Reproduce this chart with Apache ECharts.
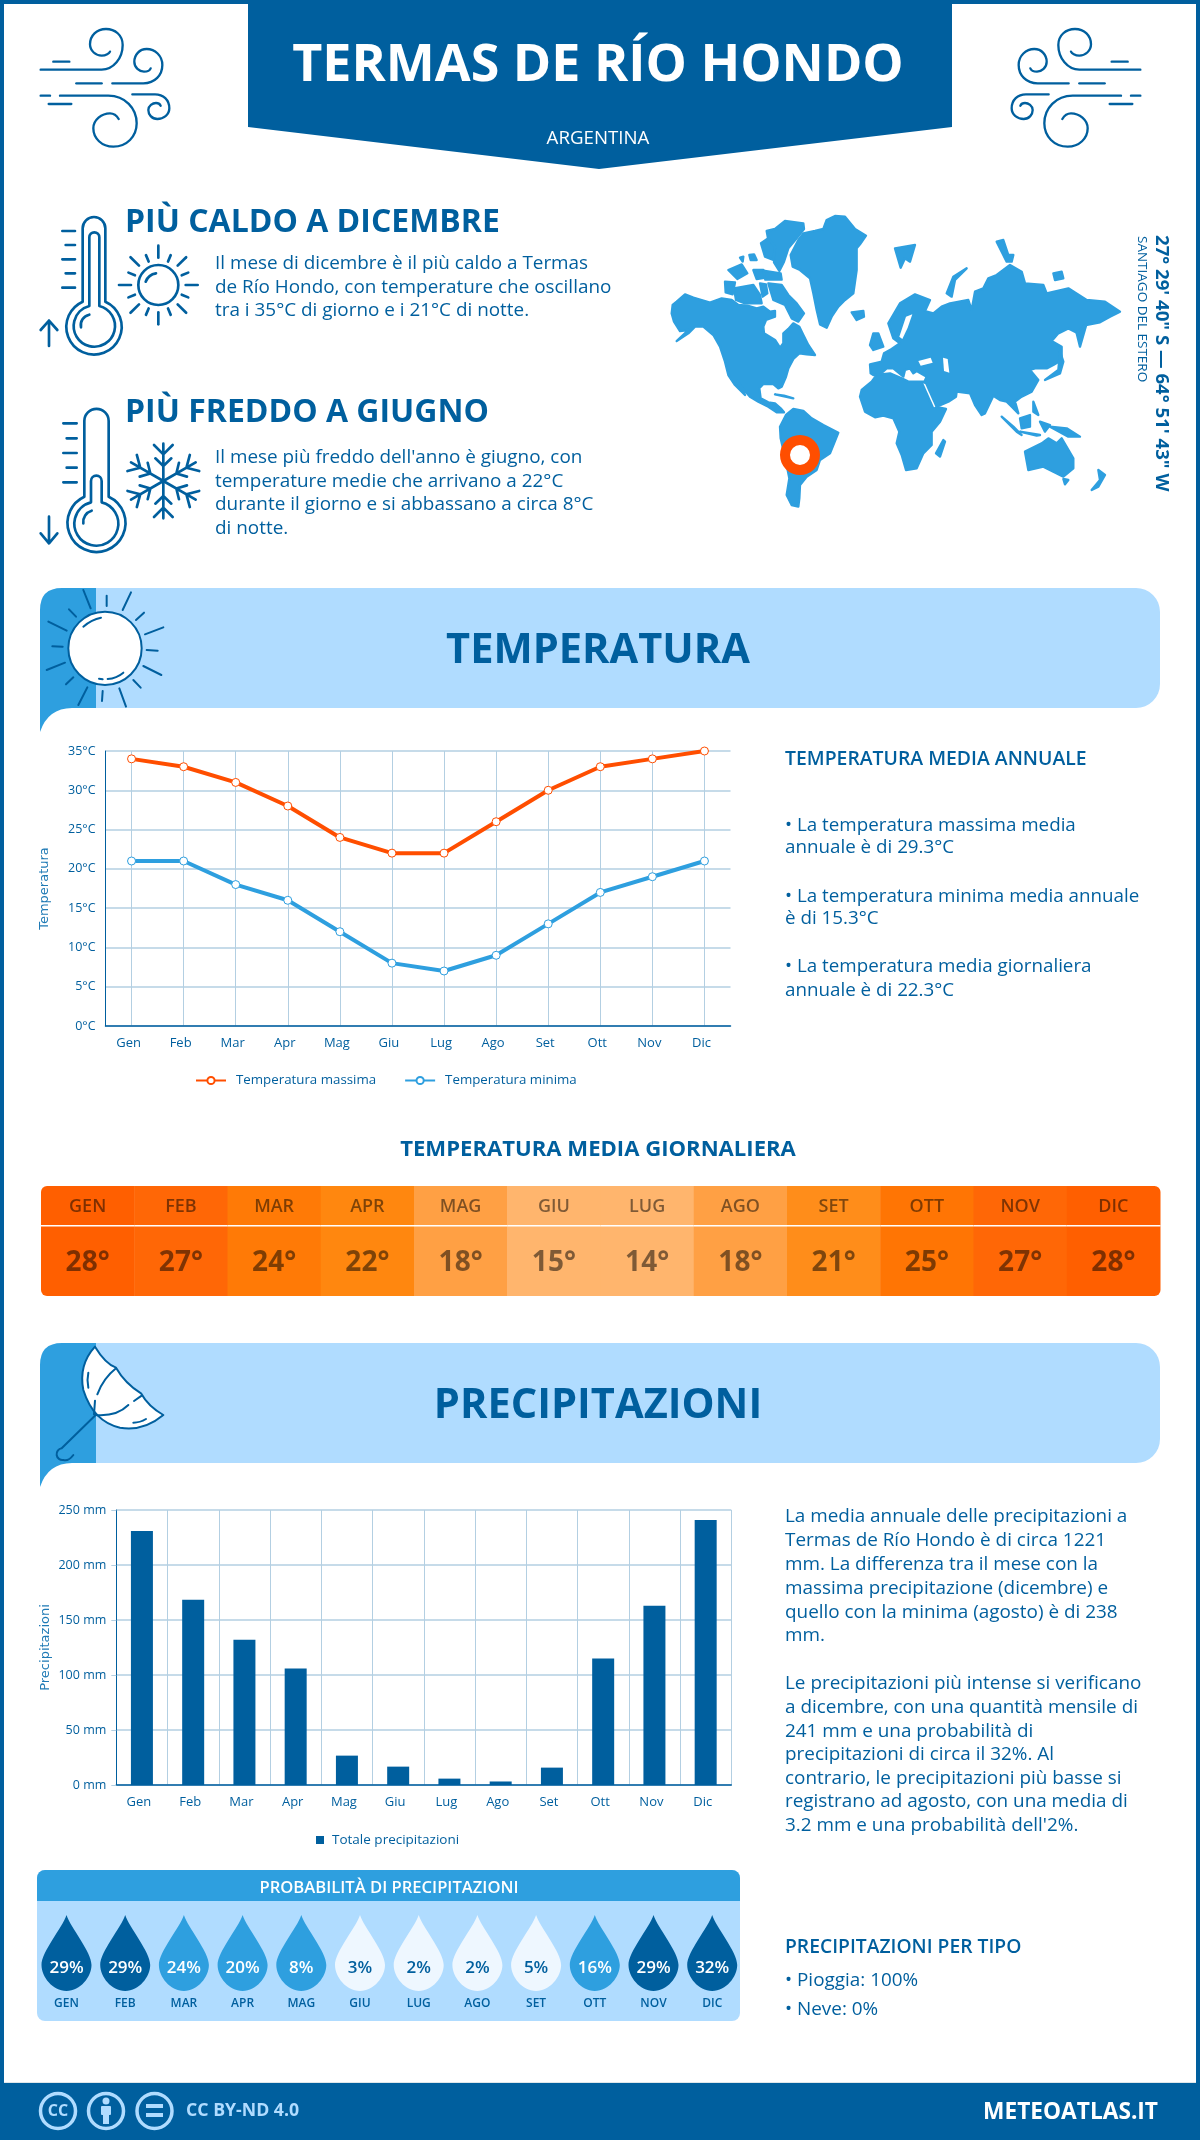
<!DOCTYPE html>
<html><head><meta charset="utf-8">
<style>html,body{margin:0;padding:0;background:#fff}#c{width:1200px;height:2140px}</style>
<script src="https://cdn.jsdelivr.net/npm/echarts@6/dist/echarts.min.js"></script>
</head><body><div id="c"></div>
<script>
const months=['Gen','Feb','Mar','Apr','Mag','Giu','Lug','Ago','Set','Ott','Nov','Dic'];
const monthsUpper=['GEN','FEB','MAR','APR','MAG','GIU','LUG','AGO','SET','OTT','NOV','DIC'];
const tempMax=[34,33,31,28,24,22,22,26,30,33,34,35];
const tempMin=[21,21,18,16,12,8,7,9,13,17,19,21];
const tempMean=[28,27,24,22,18,15,14,18,21,25,27,28];
const precip=[231,168.5,132,105.8,26.7,16.7,5.8,3.2,15.8,115,163,241];
const precipProb=[29,29,24,20,8,3,2,2,5,16,29,32];

const DARK='#005f9e',MID='#2e9fdf',LIGHT='#b0dcff',PALE='#eef7ff',HOT='#ff4e00',GRID='#b3cfe2';
const FONT='"Open Sans"';
const meanColor={28:'#ff5f00',27:'#ff6706',25:'#ff7504',24:'#ff7a06',22:'#ff870f',21:'#ff8d1a',18:'#ffa044',15:'#ffb56d',14:'#ffb56d'};

const gfx=[];
function T(text,x,y,size,weight,o){o=o||{};
  gfx.push({type:'text',x,y,rotation:o.rot||0,silent:true,style:{text,x:0,y:0,fill:o.fill||DARK,
    font:`${weight} ${size}px ${o.family||FONT}`,align:o.align||'left',verticalAlign:'middle'}});}
function R(x,y,w,h,fill,r){gfx.push({type:'rect',silent:true,shape:{x,y,width:w,height:h,r:r||0},style:{fill}});}
function P(d,fill,stroke,lw){return {type:'path',silent:true,shape:{pathData:d},
  style:{fill:fill||'none',stroke:stroke||null,lineWidth:lw||0,lineCap:'round',lineJoin:'round'}};}
function G(x,y,sx,sy,children){gfx.push({type:'group',x,y,scaleX:sx,scaleY:sy,silent:true,children});}
function L(x1,y1,x2,y2,lw,c){return {type:'line',silent:true,shape:{x1,y1,x2,y2},style:{stroke:c||DARK,lineWidth:lw,lineCap:'round'}};}
function poly(pts,fill){return {type:'polygon',silent:true,shape:{points:pts},
  style:fill?{fill}:{fill:MID,stroke:MID,lineWidth:7,lineJoin:'round'}};}

// page frame
R(0,0,1200,4,DARK);R(0,0,4,2140,DARK);R(1196,0,4,2140,DARK);
// header
gfx.push({type:'polygon',silent:true,shape:{points:[[248,0],[952,0],[952,127],[599,169],[248,127]]},style:{fill:DARK}});
T('TERMAS DE RÍO HONDO',598,66,52,700,{fill:'#fff',align:'center'});
T('ARGENTINA',598,139,18.7,400,{fill:'#fff',align:'center'});
// wind icons
const windPaths=[
'M32 164 H215 C250 164 278 130 278 90 C278 60 255 42 228 42 C200 42 180 62 180 88 C180 108 198 122 215 122 C228 122 238 115 240 110',
'M70 140 H118','M139 205 H215',
'M247 205 H340 C375 205 397 180 397 150 C397 122 375 102 350 102 C328 102 313 120 313 140 C313 158 328 170 342 170 C352 170 360 165 362 160',
'M32 242 H60',
'M90 242 H235 C285 242 320 280 320 325 C320 365 290 395 250 395 C215 395 190 370 190 340 C190 315 215 295 240 295 C252 295 262 305 266 312',
'M56 267 H124',
'M307 238 H375 C400 238 418 255 418 280 C418 300 400 312 382 312 C365 312 355 298 355 285 C355 272 368 264 378 264 C385 264 390 268 392 272'];
G(30,15,1/3,1/3,windPaths.map(d=>P(d,null,DARK,7)));
G(1151,15,-1/3,1/3,windPaths.map(d=>P(d,null,DARK,7)));

// hot block
T('PIÙ CALDO A DICEMBRE',125,222.5,32,700);
['Il mese di dicembre è il più caldo a Termas','de Río Hondo, con temperature che oscillano','tra i 35°C di giorno e i 21°C di notte.']
 .forEach((s,i)=>T(s,215,264+i*23.3,18.9,400));
const hot=[P('M158 305 L158 85 A34 34 0 0 1 226 85 L226 305 A83 83 0 1 1 158 305 Z',null,DARK,8),
 P('M178 318 L178 112 A15 15 0 0 1 208 112 L208 318 A62 62 0 1 1 178 318 Z',null,DARK,8),
 P('M153 382 A32 32 0 0 1 178 344',null,DARK,8),P('M57 438 V362 M32 390 L57 362 L82 390',null,DARK,8),
 P('M97 93 H135 M107 135 H135 M97 178 H135 M107 220 H135 M97 263 H135',null,DARK,8),
 {type:'circle',silent:true,shape:{cx:385,cy:255,r:60},style:{fill:'none',stroke:DARK,lineWidth:8}},
 P('M347 245 A40 40 0 0 1 378 220',null,DARK,8)];
for(let k=0;k<16;k++){const a=k*Math.PI/8,lng=k%2==0,r1=lng?82:76,r2=lng?118:97;
 hot.push(L(385+r1*Math.cos(a),255+r1*Math.sin(a),385+r2*Math.cos(a),255+r2*Math.sin(a),8));}
G(30,200,1/3,1/3,hot);

// cold block
T('PIÙ FREDDO A GIUGNO',125,412.5,32,700);
["Il mese più freddo dell'anno è giugno, con",'temperature medie che arrivano a 22°C','durante il giorno e si abbassano a circa 8°C','di notte.']
 .forEach((s,i)=>T(s,215,458+i*23.4,18.9,400));
const cold=[P('M163 305 L163 78 A36 36 0 0 1 236 78 L236 305 A87 87 0 1 1 163 305 Z',null,DARK,8),
 P('M183 322 L183 258 A16 16 0 0 1 215 258 L215 322 A66 66 0 1 1 183 322 Z',null,DARK,8),
 P('M160 385 A35 35 0 0 1 185 347',null,DARK,8),P('M57 365 V445 M32 415 L57 445 L82 415',null,DARK,8),
 P('M100 85 H140 M110 130 H140 M100 174 H140 M110 218 H140 M100 262 H140',null,DARK,8)];
for(let k=0;k<6;k++){const a=-Math.PI/2+k*Math.PI/3,c=Math.cos(a),s=Math.sin(a),
 pt=(f,l)=>[400+f*c-l*s,258+f*s+l*c];
 const A=(f,l)=>pt(f,l).join(' ');
 cold.push(P(`M400 258 L${A(112,0)} M${A(108,-28)} L${A(80,0)} L${A(108,28)} M${A(68,-24)} L${A(45,0)} L${A(68,24)}`,null,DARK,8));}
G(30,395,1/3,1/3,cold);

// world map (decorative outlines)
const land=[
[[38,300],[50,290],[75,268],[100,278],[125,285],[150,293],[185,280],[215,285],[235,300],[262,302],[290,310],[310,305],[330,320],[345,318],[345,335],[318,345],[310,365],[312,385],[345,405],[360,428],[370,415],[370,385],[385,372],[400,355],[418,365],[430,390],[445,420],[465,450],[440,448],[418,445],[400,462],[385,490],[378,515],[365,545],[355,550],[340,537],[310,537],[298,550],[302,580],[325,592],[345,595],[362,610],[372,622],[350,622],[325,605],[295,590],[270,575],[248,550],[232,528],[255,570],[225,540],[205,510],[195,470],[180,425],[160,390],[130,365],[105,365],[85,385],[50,408],[85,375],[60,378],[42,350],[35,325]],
[[325,235],[365,240],[385,270],[410,295],[432,325],[415,350],[395,340],[375,300],[340,285]],
[[222,250],[280,240],[300,270],[305,295],[255,295],[228,285]],
[[195,230],[225,232],[218,268],[197,262]],[[205,195],[245,178],[262,205],[232,222]],[[280,195],[310,195],[318,218],[290,222]],
[[300,235],[318,238],[322,265],[308,275]],[[310,197],[362,205],[365,224],[316,224]],
[[320,78],[345,72],[375,48],[430,55],[432,72],[410,100],[385,130],[372,170],[358,198],[342,172],[345,130],[325,105]],
[[303,115],[325,100],[345,125],[340,165],[315,155]],[[240,158],[250,155],[248,170]],[[268,150],[282,148],[290,165],[272,165]],
[[392,150],[415,105],[430,85],[465,78],[490,72],[500,45],[525,33],[555,35],[585,72],[618,92],[600,118],[590,130],[590,195],[580,265],[555,285],[535,305],[515,335],[500,368],[480,358],[470,315],[460,265],[450,220],[420,195],[398,185]],
[[575,322],[610,318],[612,335],[590,345]],
[[360,665],[378,630],[400,612],[430,618],[455,640],[490,660],[535,683],[520,720],[510,745],[480,765],[470,795],[440,815],[420,840],[418,880],[415,905],[395,900],[380,870],[388,820],[378,770],[362,700]],
[[600,575],[605,555],[635,530],[650,510],[690,505],[725,520],[745,530],[790,530],[805,570],[825,605],[858,612],[840,650],[815,680],[815,720],[790,745],[770,790],[738,795],[725,750],[710,715],[718,680],[700,640],[670,632],[645,637],[615,620]],
[[850,705],[855,710],[840,755],[828,745]],
[[632,505],[630,478],[665,470],[672,445],[695,432],[720,415],[700,400],[685,355],[720,295],[765,268],[810,285],[795,318],[820,325],[845,305],[870,295],[925,285],[935,315],[945,260],[970,250],[985,220],[1010,210],[1050,180],[1085,200],[1095,235],[1150,240],[1160,265],[1225,250],[1280,285],[1335,290],[1380,320],[1350,335],[1320,352],[1270,362],[1255,385],[1225,370],[1195,385],[1175,408],[1205,425],[1205,465],[1180,480],[1160,490],[1125,490],[1110,495],[1135,525],[1115,560],[1085,575],[1065,590],[1075,625],[1050,600],[1040,590],[1020,585],[1000,572],[975,625],[965,630],[945,600],[930,565],[890,560],[888,575],[865,590],[830,605],[815,600],[790,538],[800,515],[770,498],[760,505],[750,490],[735,495],[730,515],[700,490],[680,490],[660,508],[640,510]],
[[640,385],[655,385],[670,425],[640,435],[630,420]],[[705,130],[765,120],[750,170],[735,160],[722,188]],
[[860,265],[880,215],[920,190],[885,225],[875,275]],[[1155,525],[1195,495],[1200,440],[1210,470],[1200,505]],
[[1250,385],[1280,355],[1260,425]],[[1180,205],[1205,200],[1210,220],[1185,225]],
[[1010,110],[1030,105],[1045,150],[1060,150],[1055,170],[1040,170]],
[[1025,635],[1060,665],[1085,690],[1070,680]],[[1080,680],[1140,690],[1130,692]],[[1080,640],[1110,630],[1110,665],[1085,670]],
[[1120,590],[1135,630],[1120,620]],[[1140,650],[1170,660],[1155,680]],[[1170,665],[1220,670],[1260,695],[1225,695]],
[[1095,740],[1145,715],[1165,700],[1190,715],[1205,700],[1240,760],[1240,790],[1210,815],[1180,800],[1150,785],[1105,795]],
[[1210,822],[1225,825],[1215,838]],[[1315,795],[1335,810],[1315,845],[1295,855],[1320,825]],
[[345,568],[400,580],[372,572]]];
const waters=[[[775,468],[812,458],[818,473],[782,482]],[[849,458],[863,462],[868,503],[852,498]],[[738,335],[757,328],[743,368],[727,402],[718,395]],[[790,535],[796,538],[826,605],[822,607]]];
const mapEls=land.map(p=>poly(p)).concat(waters.map(p=>poly(p,'#fff')));
mapEls.push({type:'circle',silent:true,shape:{cx:420,cy:750,r:32},style:{fill:'#fff'}});
mapEls.push({type:'ring',silent:true,shape:{cx:420,cy:750,r:60,r0:30},style:{fill:HOT}});
G(660,205,1/3,1/3,mapEls);
T('27° 29\' 40" S — 64° 51\' 43" W',1161,235,18.6,700,{rot:-Math.PI/2});
T('SANTIAGO DEL ESTERO',1142,236,13.5,400,{rot:-Math.PI/2});

// banners
function banner(y0,title){
  gfx.push({type:'rect',silent:true,shape:{x:90,y:y0,width:1070,height:120,r:[0,24,24,0]},style:{fill:LIGHT}});
  gfx.push(P(`M96 ${y0} H62 Q40 ${y0} 40 ${y0+22} V${y0+144} Q48 ${y0+120} 72 ${y0+120} H96 Z`,MID));
  T(title,598,y0+63,41.6,700,{align:'center'});
}
banner(588,'TEMPERATURA');
banner(1343,'PRECIPITAZIONI');
const rays=[[160,30,182,85],[230,47,230,78],[303,37,278,90],[342,98,318,120],[400,142,345,163],[350,210,383,212],[340,258,394,285],[310,300,332,323],[268,325,288,380],[218,333,216,363],[172,322,145,375],[130,292,108,313],[105,248,50,270],[98,200,67,199],[110,152,55,125],[138,110,117,88]];
G(30,580,1/3,1/3,[{type:'circle',silent:true,shape:{cx:225,cy:205,r:110},style:{fill:'#fff',stroke:DARK,lineWidth:6}}]
 .concat(rays.map(r=>L(r[0],r[1],r[2],r[3],6)))
 .concat([P('M160 140 Q185 118 213 113',null,DARK,6),P('M233 297 Q260 295 280 278',null,DARK,6),P('M207 296 L218 298',null,DARK,6)]));
G(30,1335,1/3,1/3,[
 P('M195 35 Q225 85 258 98 Q285 145 333 175 Q355 215 400 240 Q340 290 270 278 Q190 260 160 165 Q145 90 195 35 Z','#fff',DARK,6),
 P('M197 240 Q260 245 295 210 M312 198 L335 182 M258 100 Q220 130 202 178 M195 197 L192 238 M175 113 Q170 135 175 158 M310 263 Q330 263 348 252',null,DARK,6),
 P('M197 240 L95 340 A15 15 0 0 0 100 375 Q115 380 130 360',null,DARK,6)]);

// temperature notes
T('TEMPERATURA MEDIA ANNUALE',785,759,19.4,600);
[['• La temperatura massima media',826],['annuale è di 29.3°C',848],['• La temperatura minima media annuale',897],['è di 15.3°C',919],['• La temperatura media giornaliera',967],['annuale è di 22.3°C',991]]
 .forEach(a=>T(a[0],785,a[1],18.8,400));
T('TEMPERATURA MEDIA GIORNALIERA',598,1149.5,22.1,700,{align:'center'});

// precipitation notes
['La media annuale delle precipitazioni a','Termas de Río Hondo è di circa 1221','mm. La differenza tra il mese con la','massima precipitazione (dicembre) e','quello con la minima (agosto) è di 238','mm.']
 .forEach((s,i)=>T(s,785,1517+i*23.8,18.9,400));
['Le precipitazioni più intense si verificano','a dicembre, con una quantità mensile di','241 mm e una probabilità di','precipitazioni di circa il 32%. Al','contrario, le precipitazioni più basse si','registrano ad agosto, con una media di',"3.2 mm e una probabilità dell'2%."]
 .forEach((s,i)=>T(s,785,1684+i*23.6,18.9,400));

// probability panel
R(37,1870,703,151,LIGHT,8);
gfx.push({type:'rect',silent:true,shape:{x:37,y:1870,width:703,height:31,r:[8,8,0,0]},style:{fill:MID}});
T('PROBABILITÀ DI PRECIPITAZIONI',389,1888,16.6,600,{fill:'#fff',align:'center'});
T('PRECIPITAZIONI PER TIPO',785,1948,19.3,600);
T('• Pioggia: 100%',785,1981,18.9,400);
T('• Neve: 0%',785,2010,18.9,400);

// footer
R(4,2082,1192,1,'#dfe6ea');R(0,2083,1200,57,DARK);
[58,106,154.5].forEach(x=>gfx.push({type:'circle',silent:true,shape:{cx:x,cy:2111,r:17.5},style:{fill:'none',stroke:LIGHT,lineWidth:3.5}}));
T('CC',58,2111,16,700,{fill:LIGHT,align:'center'});
gfx.push({type:'circle',silent:true,shape:{cx:106,cy:2101,r:3.5},style:{fill:LIGHT}});
R(101,2106,10,9,LIGHT,1);R(103,2115,6,9,LIGHT);
R(146,2104,17,4,LIGHT);R(146,2113,17,4,LIGHT);
T('CC BY-ND 4.0',186,2111,17.7,700,{fill:LIGHT});
T('METEOATLAS.IT',1158,2113,22.7,700,{fill:'#fff',align:'right'});

const axisText={color:DARK,fontFamily:FONT,fontSize:12.5};
const DROP='path://M50 0 C58 38 100 110 100 150 C100 185 78 228 50 228 C22 228 0 185 0 150 C0 110 42 38 50 0 Z';

const chart=echarts.init(document.getElementById('c'),null,{renderer:'canvas',width:1200,height:2140});
chart.setOption({
 animation:false,backgroundColor:'#fff',
 textStyle:{fontFamily:FONT},
 grid:[
  {left:105.5,top:751,width:625,height:275},
  {left:116.3,top:1510,width:615,height:275},
  {left:41,top:1186,width:1119,height:110},
  {left:37.15,top:1915,width:704.4,height:76}],
 legend:[
  {data:['Temperatura massima','Temperatura minima'],left:190,top:1069,itemWidth:30,itemHeight:9,itemGap:28,
   textStyle:{color:DARK,fontFamily:FONT,fontSize:13.3,padding:[0,0,0,5]}},
  {data:['Totale precipitazioni'],left:311,top:1828,itemWidth:8,itemHeight:8,icon:'rect',
   textStyle:{color:DARK,fontFamily:FONT,fontSize:13.5,padding:[0,0,0,3]}}],
 xAxis:[
  {gridIndex:0,type:'category',data:months,axisLine:{lineStyle:{color:DARK,width:1.5}},axisTick:{show:false},
   axisLabel:{...axisText,fontSize:13,margin:11,padding:[0,6,0,0]},splitLine:{show:true,alignWithLabel:true,lineStyle:{color:GRID,width:1}}},
  {gridIndex:1,type:'category',data:months,axisLine:{lineStyle:{color:DARK,width:1.5}},axisTick:{show:false},
   axisLabel:{...axisText,fontSize:13,margin:11,padding:[0,6,0,0]},splitLine:{show:true,lineStyle:{color:GRID,width:1}}},
  {gridIndex:2,type:'category',data:monthsUpper,show:false},
  {gridIndex:3,type:'category',data:monthsUpper,z:6,axisLine:{show:false},axisTick:{show:false},
   axisLabel:{color:DARK,fontFamily:FONT,fontSize:12,fontWeight:600,margin:7}}],
 yAxis:[
  {gridIndex:0,type:'value',min:0,max:35,interval:5,axisLine:{show:true,lineStyle:{color:DARK,width:1}},axisTick:{show:false},
   axisLabel:{...axisText,margin:10,formatter:'{value}°C'},splitLine:{lineStyle:{color:GRID,width:1.5}},
   name:'Temperatura',nameLocation:'middle',nameGap:54,nameMoveOverlap:false,nameTextStyle:{color:'#1f7ab5',fontFamily:'"DejaVu Sans"',fontSize:13}},
  {gridIndex:1,type:'value',min:0,max:250,interval:50,axisLine:{show:true,lineStyle:{color:DARK,width:1}},axisTick:{show:true,length:5,lineStyle:{color:GRID}},
   axisLabel:{...axisText,margin:10,formatter:'{value} mm'},splitLine:{lineStyle:{color:GRID,width:1.5}},
   name:'Precipitazioni',nameLocation:'middle',nameGap:64.5,nameMoveOverlap:false,nameTextStyle:{color:'#1f7ab5',fontFamily:'"DejaVu Sans"',fontSize:13}},
  {gridIndex:2,type:'value',min:0,max:1,show:false},
  {gridIndex:3,type:'category',data:['p'],show:false}],
 series:[
  {type:'custom',coordinateSystem:'none',silent:true,z:1,data:[0],renderItem(){return {type:'group',children:gfx};}},
  {name:'Temperatura massima',type:'line',xAxisIndex:0,yAxisIndex:0,data:tempMax,symbol:'circle',symbolSize:8,showAllSymbol:true,
   lineStyle:{color:HOT,width:4},itemStyle:{color:'#fff',borderColor:HOT,borderWidth:1}},
  {name:'Temperatura minima',type:'line',xAxisIndex:0,yAxisIndex:0,data:tempMin,symbol:'circle',symbolSize:8,showAllSymbol:true,
   lineStyle:{color:MID,width:4},itemStyle:{color:'#fff',borderColor:MID,borderWidth:1}},
  {name:'Totale precipitazioni',type:'bar',xAxisIndex:1,yAxisIndex:1,data:precip,barWidth:22,itemStyle:{color:DARK}},
  {type:'custom',xAxisIndex:2,yAxisIndex:2,silent:true,data:tempMean.map((v,i)=>[i,v]),
   renderItem(params,api){
    const i=api.value(0),v=api.value(1),tl=api.coord([i,1]),bl=api.coord([i,0]),w=api.size([1,0])[0],
      x=tl[0]-w/2,y=tl[1],h=bl[1]-tl[1],
      r=i===0?[6,0,0,6]:(i===11?[0,6,6,0]:0),ink='rgba(0,0,0,0.5)';
    return {type:'group',children:[
     {type:'rect',shape:{x,y,width:w+0.5,height:h,r},style:{fill:meanColor[v]}},
     {type:'rect',shape:{x,y:y+39,width:w+0.5,height:1.5},style:{fill:'#fff'}},
     {type:'text',style:{text:monthsUpper[i],x:x+w/2,y:y+21,fill:ink,font:`600 18px ${FONT}`,align:'center',verticalAlign:'middle'}},
     {type:'text',style:{text:v+'°',x:x+w/2,y:y+77,fill:ink,font:`700 28px ${FONT}`,align:'center',verticalAlign:'middle'}}]};
   }},
  {type:'scatter',xAxisIndex:3,yAxisIndex:3,silent:true,z:5,symbol:DROP,symbolSize:[50,76],
   data:precipProb.map((p,i)=>{const c=p>=29?DARK:(p>=8?MID:PALE);
     return {value:[i,0,p],itemStyle:{color:c,opacity:1},
       label:{show:true,position:'inside',offset:[0,15],formatter:p+'%',color:c===PALE?DARK:'#fff',fontFamily:FONT,fontSize:17,fontWeight:600}};})}
 ]
});
</script></body></html>
